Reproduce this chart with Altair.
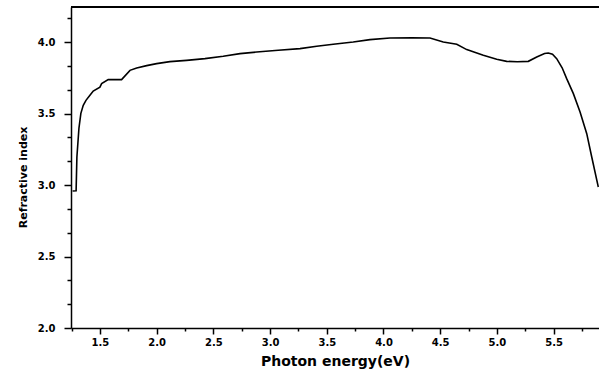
import altair as alt
import pandas as pd

# Refractive index versus photon energy
energy_ev = [1.259, 1.29, 1.297, 1.315, 1.332, 1.353, 1.377, 1.412, 1.441, 1.5,
             1.515, 1.573, 1.691, 1.765, 1.824, 1.912, 2.0, 2.117, 2.264, 2.426,
             2.587, 2.735, 2.882, 3.072, 3.264, 3.411, 3.557, 3.733, 3.881, 4.057,
             4.25, 4.41, 4.527, 4.646, 4.734, 4.88, 4.998, 5.086, 5.18, 5.277,
             5.351, 5.42, 5.453, 5.49, 5.527, 5.575, 5.615, 5.674, 5.733, 5.792,
             5.836, 5.894]
refr_index = [2.958, 2.96, 3.196, 3.397, 3.501, 3.557, 3.592, 3.627, 3.657, 3.685,
              3.709, 3.737, 3.737, 3.802, 3.818, 3.835, 3.849, 3.863, 3.872, 3.884,
              3.9, 3.919, 3.93, 3.942, 3.954, 3.97, 3.984, 4.0, 4.017, 4.028,
              4.03, 4.028, 4.0, 3.984, 3.947, 3.907, 3.879, 3.865, 3.862, 3.865,
              3.895, 3.92, 3.923, 3.915, 3.884, 3.82, 3.744, 3.639, 3.51, 3.359,
              3.196, 2.986]

x_major = [1.5, 2.0, 2.5, 3.0, 3.5, 4.0, 4.5, 5.0, 5.5]
x_minor = [1.25, 1.75, 2.25, 2.75, 3.25, 3.75, 4.25, 4.75, 5.25, 5.75]
y_major = [2.0, 2.5, 3.0, 3.5, 4.0]
y_minor = [2.1667, 2.3333, 2.6667, 2.8333, 3.1667, 3.3333, 3.6667, 3.8333, 4.1667]

X_DOMAIN = [1.245, 5.9]
Y_DOMAIN = [2.0, 4.245]

df = pd.DataFrame({"energy": energy_ev, "n": refr_index})

font = "DejaVu Sans"

x_scale = alt.Scale(domain=X_DOMAIN, nice=False, zero=False)
y_scale = alt.Scale(domain=Y_DOMAIN, nice=False, zero=False)

curve = alt.Chart(df).mark_line(color="black", strokeWidth=1.6, interpolate="linear").encode(
    x=alt.X("energy:Q", scale=x_scale,
            axis=alt.Axis(values=x_major, format=".1f", orient="bottom", grid=False,
                          title="Photon energy(eV)", titleFont=font, titleFontSize=14,
                          titleFontWeight="bold", titlePadding=7, titleColor="black",
                          labelFont=font, labelFontSize=10, labelFontWeight="bold",
                          labelColor="black", labelPadding=3, tickSize=6, tickColor="black",
                          tickWidth=1.5, domainColor="black", domainWidth=1.5)),
    y=alt.Y("n:Q", scale=y_scale,
            axis=alt.Axis(values=y_major, format=".1f", orient="left", grid=False,
                          title="Refractive index", titleFont=font, titleFontSize=11,
                          titleFontWeight="bold", titlePadding=9, titleColor="black",
                          titleY=170,
                          labelFont=font, labelFontSize=10, labelFontWeight="bold",
                          labelColor="black", labelPadding=9, tickSize=7, tickColor="black",
                          tickWidth=1.5, domainColor="black", domainWidth=1.5)),
)

# Minor ticks drawn as extra, label-free axes on the same scales
minor = alt.Chart(df).mark_point(opacity=0).encode(
    x=alt.X("energy:Q", scale=x_scale,
            axis=alt.Axis(values=x_minor, orient="bottom", labels=False, title=None, grid=False,
                          domain=False, tickSize=3, tickColor="black", tickWidth=1.5)),
    y=alt.Y("n:Q", scale=y_scale,
            axis=alt.Axis(values=y_minor, orient="left", labels=False, title=None, grid=False,
                          domain=False, tickSize=4, tickColor="black", tickWidth=1.5)),
)

# Top frame line
top_line = alt.Chart(df).mark_rule(color="black", strokeWidth=1.5).encode(
    y=alt.value(0), x=alt.value(0), x2=alt.value(528)
)

chart = alt.layer(curve, minor, top_line).resolve_axis(x="independent", y="independent").properties(
    width=528, height=321,
    autosize=alt.AutoSizeParams(type="none"),
    padding={"left": 71, "top": 7, "right": 0, "bottom": 51},
    background="white",
).configure_view(stroke=None)

chart.save("out.html", embed_options={"renderer": "svg", "actions": False})
